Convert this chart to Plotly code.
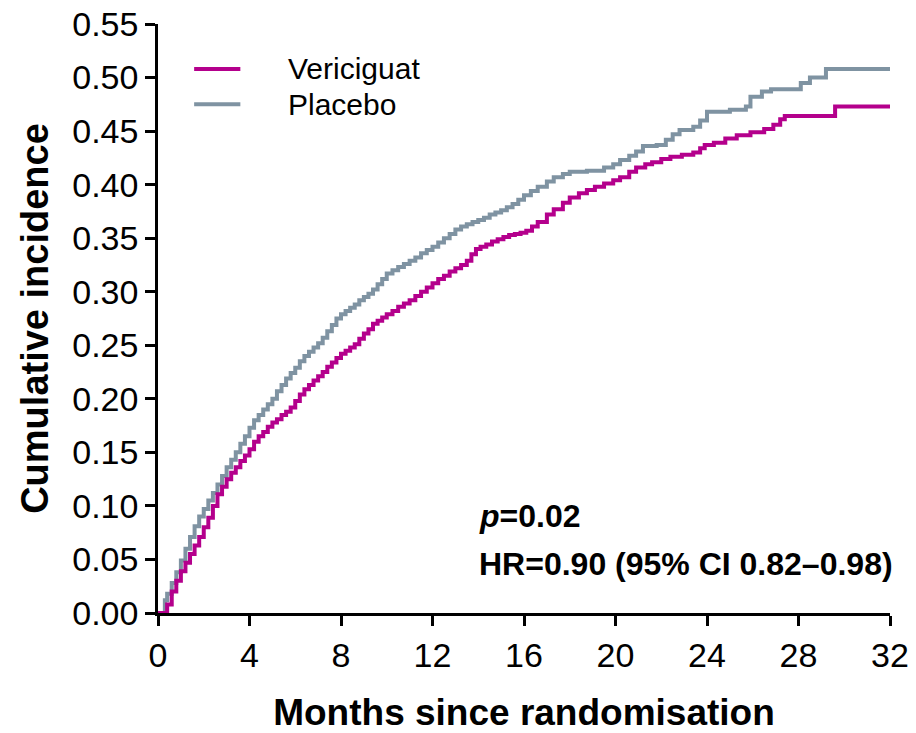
import plotly.graph_objects as go

# Cumulative incidence (step estimates) by treatment arm, months since randomisation
vericiguat_months = [
    0.0, 0.2, 0.4, 0.6, 0.8, 1.0, 1.2, 1.4, 1.6, 1.8, 2.0, 2.2, 2.4, 2.6, 2.8, 3.0, 3.2,
    3.4, 3.6, 3.8, 4.0, 4.2, 4.4, 4.6, 4.8, 5.0, 5.2, 5.4, 5.6, 5.8, 6.0, 6.2, 6.4, 6.6,
    6.8, 7.0, 7.2, 7.4, 7.6, 7.8, 8.0, 8.2, 8.4, 8.6, 8.8, 9.0, 9.2, 9.4, 9.6, 9.8, 10.0,
    10.25, 10.5, 10.75, 11.0, 11.25, 11.5, 11.75, 12.0, 12.25, 12.5, 12.75, 13.0, 13.25,
    13.5, 13.7, 13.9, 14.1, 14.35, 14.6, 14.85, 15.1, 15.35, 15.6, 15.85, 16.1, 16.35,
    16.6, 17.0, 17.3, 17.7, 18.0, 18.4, 18.75, 19.1, 19.5, 19.9, 20.2, 20.6, 20.9, 21.3,
    21.6, 22.0, 22.4, 22.9, 23.4, 23.7, 23.9, 24.3, 24.8, 25.3, 25.9, 26.5, 26.9, 27.2,
    27.4, 29.6, 32.0,
]
vericiguat_incidence = [
    0.0, 0.0, 0.008, 0.02, 0.03, 0.039, 0.047, 0.055, 0.063, 0.071, 0.08, 0.089, 0.1,
    0.111, 0.118, 0.125, 0.131, 0.136, 0.142, 0.147, 0.153, 0.16, 0.165, 0.169, 0.174,
    0.178, 0.181, 0.185, 0.188, 0.192, 0.198, 0.204, 0.209, 0.213, 0.217, 0.221, 0.225,
    0.23, 0.234, 0.238, 0.242, 0.245, 0.248, 0.251, 0.256, 0.261, 0.265, 0.27, 0.273,
    0.276, 0.279, 0.282, 0.286, 0.289, 0.292, 0.296, 0.3, 0.304, 0.308, 0.312, 0.315,
    0.319, 0.322, 0.325, 0.329, 0.335, 0.34, 0.342, 0.344, 0.347, 0.349, 0.351, 0.353,
    0.354, 0.355, 0.357, 0.361, 0.365, 0.372, 0.377, 0.383, 0.388, 0.392, 0.395, 0.398,
    0.401, 0.404, 0.407, 0.412, 0.416, 0.419, 0.421, 0.424, 0.426, 0.428, 0.43, 0.434,
    0.437, 0.439, 0.443, 0.446, 0.449, 0.452, 0.456, 0.461, 0.464, 0.473, 0.473,
]

placebo_months = [
    0.0, 0.2, 0.3, 0.4, 0.6, 0.8, 1.0, 1.2, 1.4, 1.6, 1.8, 2.0, 2.2, 2.4, 2.6, 2.8, 3.0,
    3.2, 3.4, 3.6, 3.8, 4.0, 4.2, 4.4, 4.6, 4.8, 5.0, 5.2, 5.4, 5.6, 5.8, 6.0, 6.2, 6.4,
    6.6, 6.8, 7.0, 7.2, 7.4, 7.6, 7.8, 8.0, 8.2, 8.4, 8.6, 8.8, 9.0, 9.2, 9.4, 9.6, 9.8,
    10.0, 10.25, 10.5, 10.75, 11.0, 11.25, 11.5, 11.75, 12.0, 12.25, 12.5, 12.75, 13.0,
    13.25, 13.5, 13.75, 14.0, 14.25, 14.5, 14.75, 15.0, 15.25, 15.5, 15.75, 16.0, 16.3,
    16.6, 17.0, 17.3, 17.7, 18.0, 18.75, 19.5, 19.9, 20.2, 20.6, 20.9, 21.2, 21.8, 22.2,
    22.5, 22.8, 23.4, 23.7, 24.0, 25.0, 25.7, 25.9, 26.4, 26.8, 28.1, 28.5, 29.2, 32.0,
]
placebo_incidence = [
    0.0, 0.0, 0.012, 0.018, 0.028, 0.038, 0.049, 0.06, 0.071, 0.081, 0.09, 0.097, 0.105,
    0.112, 0.12, 0.128, 0.136, 0.143, 0.15, 0.158, 0.165, 0.173, 0.18, 0.185, 0.19,
    0.195, 0.2, 0.207, 0.213, 0.219, 0.224, 0.229, 0.235, 0.24, 0.244, 0.248, 0.252,
    0.257, 0.263, 0.269, 0.275, 0.279, 0.282, 0.285, 0.288, 0.292, 0.295, 0.298, 0.302,
    0.307, 0.312, 0.317, 0.32, 0.323, 0.326, 0.329, 0.332, 0.336, 0.339, 0.342, 0.346,
    0.35, 0.354, 0.358, 0.361, 0.363, 0.365, 0.367, 0.369, 0.372, 0.374, 0.376, 0.379,
    0.382, 0.386, 0.39, 0.394, 0.398, 0.403, 0.407, 0.41, 0.412, 0.413, 0.416, 0.419,
    0.423, 0.427, 0.431, 0.436, 0.437, 0.442, 0.447, 0.451, 0.454, 0.46, 0.468, 0.47,
    0.473, 0.482, 0.487, 0.489, 0.495, 0.5, 0.508, 0.508,
]

x_ticks = [0, 4, 8, 12, 16, 20, 24, 28, 32]
y_ticks = [0.00, 0.05, 0.10, 0.15, 0.20, 0.25, 0.30, 0.35, 0.40, 0.45, 0.50, 0.55]

arm_names = ["Vericiguat", "Placebo"]
arm_colors = ["#B4008C", "#7F93A2"]

FONT = "Liberation Sans, Arial, sans-serif"

fig = go.Figure()
fig.add_trace(go.Scatter(
    x=placebo_months, y=placebo_incidence, mode="lines", name=arm_names[1],
    line=dict(color=arm_colors[1], width=4, shape="hv"), showlegend=False,
))
fig.add_trace(go.Scatter(
    x=vericiguat_months, y=vericiguat_incidence, mode="lines", name=arm_names[0],
    line=dict(color=arm_colors[0], width=4, shape="hv"), showlegend=False,
))

# Legend drawn as short line samples with labels
legend_rows_y = [0.508, 0.475]
for name, color, ly in zip(arm_names, arm_colors, legend_rows_y):
    fig.add_shape(type="line", xref="x", yref="y", x0=1.58, x1=3.6, y0=ly, y1=ly,
                  line=dict(color=color, width=4))
    fig.add_annotation(x=5.6, y=ly, xref="x", yref="y", text=name, showarrow=False,
                       xanchor="left", yanchor="middle",
                       font=dict(family=FONT, size=30, color="black"))

fig.add_annotation(x=13.95, y=0.091, xref="x", yref="y",
                   text="<b><i>p</i>=0.02</b>", showarrow=False,
                   xanchor="left", yanchor="middle",
                   font=dict(family=FONT, size=32, color="black"))
fig.add_annotation(x=13.95, y=0.046, xref="x", yref="y",
                   text="<b>HR=0.90 (95% CI 0.82–0.98)</b>", showarrow=False,
                   xanchor="left", yanchor="middle",
                   font=dict(family=FONT, size=32, color="black"))

fig.update_layout(
    width=916, height=733,
    margin=dict(l=158, r=26, t=24, b=120, autoexpand=False),
    paper_bgcolor="white", plot_bgcolor="white",
    font=dict(family=FONT, color="black"),
)
fig.update_xaxes(
    range=[0, 32], tickvals=x_ticks, ticktext=[str(v) for v in x_ticks],
    showline=True, linecolor="black", linewidth=2.5, mirror=False,
    ticks="outside", ticklen=10, tickwidth=2.5, tickcolor="black",
    showgrid=False, zeroline=False, automargin=False,
    tickfont=dict(family=FONT, size=34),
    title=dict(text="<b>Months since randomisation</b>", standoff=32,
               font=dict(family=FONT, size=37)),
)
fig.update_yaxes(
    range=[0, 0.55], tickvals=y_ticks, ticktext=[f"{v:.2f}" for v in y_ticks],
    showline=True, linecolor="black", linewidth=2.5, mirror=False,
    ticks="outside", ticklen=10, tickwidth=2.5, tickcolor="black",
    showgrid=False, zeroline=False, automargin=False,
    tickfont=dict(family=FONT, size=34),
    title=dict(text="<b>Cumulative incidence</b>", standoff=12,
               font=dict(family=FONT, size=38)),
)

fig.write_html("out.html")
